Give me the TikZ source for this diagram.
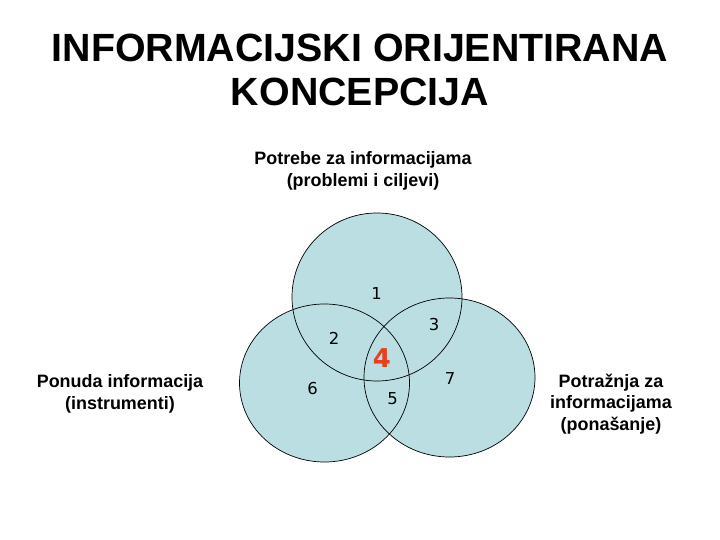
\documentclass[tikz,border=0pt]{standalone}
\usepackage{fontspec}
\setmainfont{Liberation Sans}
\newfontfamily\digfont{DejaVu Sans}
\definecolor{vennfill}{RGB}{186,222,226}
\definecolor{vennred}{RGB}{232,64,28}
\begin{document}
\begin{tikzpicture}[x=1bp,y=-1bp,
  label/.style={align=center,font=\fontsize{18}{21.5}\selectfont\bfseries},
  num/.style={font=\digfont\fontsize{16.5}{16.5}\selectfont},
  circ/.style={draw=black,line width=0.7pt}]
\useasboundingbox (0,0) rectangle (720,540);
% fills
\fill[vennfill] (377,297) ellipse [x radius=85, y radius=84];
\fill[vennfill] (324.5,383) ellipse [x radius=85, y radius=79];
\fill[vennfill] (449.5,377.5) ellipse [x radius=85.5, y radius=79.5];
% outlines
\draw[circ] (377,297) ellipse [x radius=85, y radius=84];
\draw[circ] (324.5,383) ellipse [x radius=85, y radius=79];
\draw[circ] (449.5,377.5) ellipse [x radius=85.5, y radius=79.5];
% title
\node (title) at (360,70) [align=center,font=\fontsize{39.5}{45}\selectfont\bfseries] {INFORMACIJSKI ORIJENTIRANA\\KONCEPCIJA};
% labels
\node (top) at (363,171) [label] {Potrebe za informacijama\\(problemi i ciljevi)};
\node (left) at (120,394) [label] {Ponuda informacija\\(instrumenti)};
\node (right) at (611,404) [label] {Potražnja za\\informacijama\\(ponašanje)};
% numbers
\node (n1) at (376.7,294) [num] {1};
\node (n2) at (334,338) [num] {2};
\node (n3) at (434,325) [num] {3};
\node (n4) at (382,358) [font=\digfont\bfseries\fontsize{26}{26}\selectfont,text=vennred] {4};
\node (n5) at (392.7,399) [num] {5};
\node (n6) at (312.7,389) [num] {6};
\node (n7) at (450,379) [num] {7};
\end{tikzpicture}
\end{document}
